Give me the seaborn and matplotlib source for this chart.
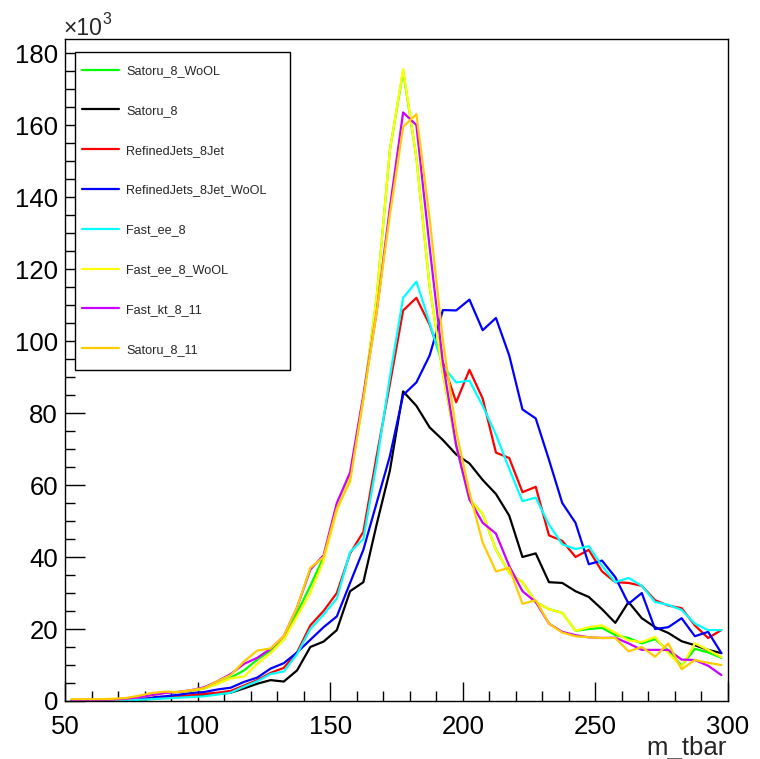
import matplotlib
matplotlib.use("Agg")
import matplotlib.pyplot as plt
import seaborn as sns
import pandas as pd
from matplotlib.lines import Line2D
from matplotlib.patches import Rectangle
from matplotlib.ticker import MultipleLocator

# ---------------- data (entries in units of 10^3) ----------------
m_tbar = [52.5, 57.5, 62.5, 67.5, 72.5, 77.5, 82.5, 87.5, 92.5, 97.5,
          102.5, 107.5, 112.5, 117.5, 122.5, 127.5, 132.5, 137.5, 142.5, 147.5,
          152.5, 157.5, 162.5, 167.5, 172.5, 177.5, 182.5, 187.5, 192.5, 197.5,
          202.5, 207.5, 212.5, 217.5, 222.5, 227.5, 232.5, 237.5, 242.5, 247.5,
          252.5, 257.5, 262.5, 267.5, 272.5, 277.5, 282.5, 287.5, 292.5, 297.5]

satoru_8_wool = [0.4, 0.4, 0.4, 0.4, 0.6, 1.0, 1.5, 2.3, 2.5, 2.8,
                 3.5, 4.8, 6.5, 8.5, 11.5, 14.0, 17.0, 24.5, 32.0, 40.0,
                 53.0, 62.0, 84.0, 112.0, 153.0, 175.0, 151.0, 115.0, 91.0, 71.0,
                 56.0, 52.0, 42.0, 35.6, 33.0, 27.5, 25.5, 24.5, 19.5, 20.0,
                 20.3, 18.3, 17.5, 16.0, 17.2, 14.0, 9.8, 14.5, 13.5, 12.0]

satoru_8 = [0.0, 0.0, 0.0, 0.1, 0.2, 0.4, 0.6, 0.9, 1.1, 1.4,
            1.6, 2.0, 2.3, 3.5, 4.8, 5.8, 5.4, 8.5, 15.0, 16.5,
            19.7, 30.5, 33.0, 49.0, 64.0, 86.0, 82.0, 76.0, 72.5, 68.5,
            66.0, 61.4, 57.5, 51.5, 40.0, 41.0, 33.0, 32.8, 30.5, 28.9,
            25.5, 21.7, 27.5, 23.0, 20.5, 18.9, 16.6, 15.5, 14.2, 13.3]

refinedjets_8jet = [0.1, 0.1, 0.1, 0.2, 0.3, 0.5, 0.8, 1.0, 1.3, 1.6,
                    2.0, 2.3, 2.8, 4.3, 5.8, 7.8, 9.2, 13.5, 21.0, 25.0,
                    30.0, 41.0, 47.0, 68.0, 88.0, 108.5, 112.0, 104.5, 94.0, 83.0,
                    92.0, 84.0, 69.0, 67.5, 58.0, 59.5, 46.0, 44.5, 40.0, 42.0,
                    36.0, 33.0, 32.8, 32.0, 28.0, 26.5, 25.8, 21.0, 17.5, 19.7]

refinedjets_8jet_wool = [0.0, 0.0, 0.1, 0.2, 0.3, 0.6, 1.0, 1.3, 1.7, 2.2,
                         2.5, 3.2, 3.7, 5.3, 6.5, 9.0, 10.5, 13.5, 17.0, 20.5,
                         23.5, 32.8, 42.0, 55.0, 68.0, 85.0, 88.5, 96.0, 108.6, 108.5,
                         111.5, 103.0, 106.4, 96.0, 81.0, 78.5, 67.0, 55.0, 49.5, 38.0,
                         39.0, 34.4, 27.0, 30.0, 20.0, 20.5, 23.0, 18.0, 19.2, 13.3]

fast_ee_8 = [0.0, 0.0, 0.0, 0.1, 0.2, 0.3, 0.5, 0.7, 0.9, 1.1,
             1.3, 1.8, 2.3, 4.0, 5.5, 7.5, 8.2, 13.0, 20.0, 24.0,
             28.5, 41.4, 45.0, 66.0, 90.0, 112.0, 116.5, 105.0, 93.0, 88.5,
             89.0, 82.0, 74.0, 64.5, 55.5, 56.5, 49.0, 43.5, 42.2, 43.0,
             37.5, 33.0, 34.2, 32.0, 27.5, 26.7, 25.3, 21.5, 19.7, 19.7]

fast_ee_8_wool = [0.4, 0.4, 0.4, 0.4, 0.6, 1.0, 1.5, 2.3, 2.5, 2.8,
                  3.5, 4.8, 6.3, 6.8, 10.3, 13.3, 17.0, 23.5, 30.0, 39.0,
                  53.0, 62.0, 84.0, 112.0, 153.0, 175.5, 151.0, 115.0, 91.0, 71.0,
                  56.0, 52.0, 42.0, 35.6, 33.0, 27.5, 25.5, 24.5, 19.5, 20.5,
                  21.0, 19.0, 16.8, 16.4, 17.8, 13.3, 9.5, 16.0, 14.2, 12.2]

fast_kt_8_11 = [0.3, 0.3, 0.3, 0.4, 0.6, 1.0, 1.6, 2.2, 2.5, 3.0,
                3.8, 5.5, 7.5, 10.3, 12.0, 14.5, 18.0, 26.0, 36.5, 40.5,
                55.0, 63.5, 85.0, 108.0, 137.0, 163.5, 160.0, 126.0, 94.0, 71.0,
                56.0, 49.5, 46.5, 37.5, 30.5, 27.5, 21.5, 19.2, 18.3, 17.7,
                17.5, 17.6, 16.0, 14.2, 14.2, 14.2, 11.5, 11.4, 9.8, 7.2]

satoru_8_11 = [0.5, 0.5, 0.5, 0.6, 0.8, 1.4, 2.2, 2.6, 2.5, 3.0,
               3.6, 5.5, 7.2, 11.0, 14.0, 14.6, 18.0, 26.0, 37.0, 40.0,
               53.5, 61.0, 84.0, 108.0, 135.0, 159.5, 163.0, 134.0, 100.0, 75.0,
               58.0, 44.0, 36.0, 37.0, 27.0, 28.0, 21.5, 19.0, 18.0, 17.7,
               17.5, 17.5, 13.8, 15.0, 12.3, 16.0, 8.8, 11.4, 10.6, 10.0]

labels = ["Satoru_8_WoOL", "Satoru_8", "RefinedJets_8Jet", "RefinedJets_8Jet_WoOL",
          "Fast_ee_8", "Fast_ee_8_WoOL", "Fast_kt_8_11", "Satoru_8_11"]
colors = ["#00ff00", "#000000", "#ff0000", "#0000ff",
          "#00ffff", "#ffff00", "#cc00ff", "#ffcc00"]
series = [satoru_8_wool, satoru_8, refinedjets_8jet, refinedjets_8jet_wool,
          fast_ee_8, fast_ee_8_wool, fast_kt_8_11, satoru_8_11]

x_ticks = [50, 100, 150, 200, 250, 300]
y_ticks = [0, 20, 40, 60, 80, 100, 120, 140, 160, 180]

# ---------------- build long table ----------------
frames = []
for name, vals in zip(labels, series):
    frames.append(pd.DataFrame({"m_tbar": m_tbar, "entries": vals, "sample": name}))
df = pd.concat(frames, ignore_index=True)

# ---------------- style ----------------
sns.set_style("white")
plt.rcParams["font.family"] = ["Liberation Sans", "DejaVu Sans"]

W, H = 760, 759
fig = plt.figure(figsize=(W / 100, H / 100), dpi=100)
ax = fig.add_axes([65 / W, 1 - 701 / H, (728 - 65) / W, (701 - 39) / H])

sns.lineplot(data=df, x="m_tbar", y="entries", hue="sample", hue_order=labels,
             palette=dict(zip(labels, colors)), linewidth=1.6, sort=False,
             estimator=None, legend=False, ax=ax)

ax.set_xlim(50, 300)
ax.set_ylim(0, 183.9)
ax.set_xticks(x_ticks)
ax.set_yticks(y_ticks)
ax.xaxis.set_minor_locator(MultipleLocator(10))
ax.yaxis.set_minor_locator(MultipleLocator(5))
ax.tick_params(axis="both", which="both", direction="in", top=False, right=False,
               bottom=True, left=True, colors="black", labelsize=18.5)
ax.tick_params(axis="x", which="major", length=14, width=1, pad=10)
ax.tick_params(axis="x", which="minor", length=7, width=1)
ax.tick_params(axis="y", which="major", length=14.5, width=1, pad=5)
ax.tick_params(axis="y", which="minor", length=7.5, width=1)
for s in ax.spines.values():
    s.set_visible(True)
    s.set_color("black")
    s.set_linewidth(1.0)
ax.set_xlabel("")
ax.set_ylabel("")

# axis title and exponent
fig.text(727 / W, 1 - 755 / H, "m_tbar", ha="right", va="baseline", fontsize=18.5)
fig.text(63 / W, 1 - 35 / H, "\u00d710", ha="left", va="baseline", fontsize=16.5)
fig.text(102 / W, 1 - 24 / H, "3", ha="left", va="baseline", fontsize=11.5)

# legend: frame box + entries
ax.add_patch(Rectangle((75 / W, 1 - 370 / H), 215 / W, 318 / H,
                       transform=fig.transFigure, facecolor="white",
                       edgecolor="black", linewidth=1.0, zorder=4.5,
                       clip_on=False))
handles = [Line2D([], [], color=c, linewidth=1.6) for c in colors]
leg = ax.legend(handles, labels, loc="upper left",
                bbox_to_anchor=(82 / W, 1 - 65 / H),
                bbox_transform=fig.transFigure, borderaxespad=0,
                fontsize=9.1, handlelength=2.95, handletextpad=0.55,
                labelspacing=2.2, borderpad=0.0, frameon=False)
leg.set_zorder(5)

fig.savefig("out.png", dpi=100, facecolor="white")
